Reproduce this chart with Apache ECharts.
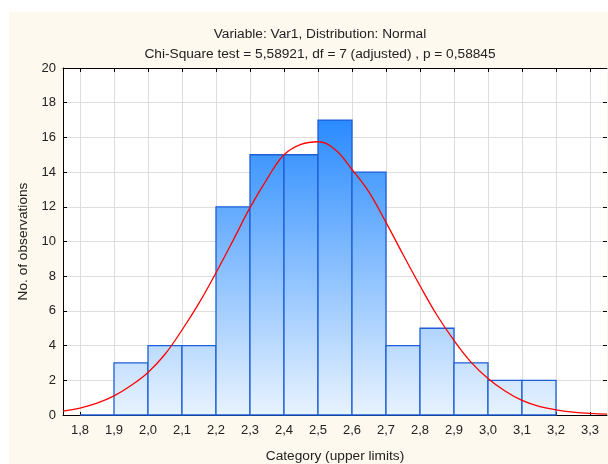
<!DOCTYPE html>
<html><head><meta charset="utf-8">
<script src="https://cdn.jsdelivr.net/npm/echarts@6/dist/echarts.min.js"></script>
<style>html,body{margin:0;padding:0;background:#fff;}#c{width:608px;height:464px;}</style>
</head><body><div id="c"></div>
<script>
// Histogram bins (lower limit, upper limit) and counts
const binLower = [1.8, 1.9, 2.0, 2.1, 2.2, 2.3, 2.4, 2.5, 2.6, 2.7, 2.8, 2.9, 3.0, 3.1];
const binUpper = [1.9, 2.0, 2.1, 2.2, 2.3, 2.4, 2.5, 2.6, 2.7, 2.8, 2.9, 3.0, 3.1, 3.2];
const counts   = [0, 3, 4, 4, 12, 15, 15, 17, 14, 4, 5, 3, 2, 2];
// Fitted normal curve
const curveX = [1.75,1.8,1.85,1.9,1.95,2.0,2.05,2.1,2.15,2.2,2.25,2.3,2.35,2.4,2.45,2.5,2.55,2.6,2.65,2.7,2.75,2.8,2.85,2.9,2.95,3.0,3.05,3.1,3.15,3.2,3.25,3.3,3.35];
const curveY = [0.22,0.4,0.68,1.1,1.7,2.45,3.5,4.9,6.45,8.2,10.05,11.95,13.6,15.0,15.6,15.75,15.3,14.15,12.85,11.1,9.25,7.45,5.75,4.3,3.05,2.1,1.38,0.84,0.5,0.3,0.17,0.09,0.05];
const xTicks = [1.8,1.9,2.0,2.1,2.2,2.3,2.4,2.5,2.6,2.7,2.8,2.9,3.0,3.1,3.2,3.3];
const titleLine1 = 'Variable: Var1, Distribution: Normal';
const titleLine2 = 'Chi-Square test = 5,58921, df = 7 (adjusted) , p = 0,58845';

const FONT = 'Liberation Sans, Arial, sans-serif';
const chart = echarts.init(document.getElementById('c'));
const histData = binLower.map((lo, i) => [lo, binUpper[i], counts[i]]);
const curveData = curveX.map((x, i) => [x, curveY[i]]);
const fmt = v => (Math.round(v * 10) / 10).toFixed(1).replace('.', ',');

chart.setOption({
  backgroundColor: '#ffffff',
  animation: false,
  graphic: [{ type: 'rect', z: -100, silent: true, shape: { x: 9, y: 12, width: 599, height: 452 }, style: { fill: '#fdf9ef' } }],
  title: [
    { text: titleLine1, left: 315, textAlign: 'center', top: 22, textStyle: { fontFamily: FONT, fontSize: 13.7, fontWeight: 'normal', color: '#222' } },
    { text: titleLine2, left: 315, textAlign: 'center', top: 42, textStyle: { fontFamily: FONT, fontSize: 13.7, fontWeight: 'normal', color: '#222' } }
  ],
  grid: { left: 63, right: 1, top: 68, bottom: 49, show: true, backgroundColor: '#ffffff', borderWidth: 0, outerBoundsMode: 'none', containLabel: false },
  xAxis: [{
    type: 'value', min: 1.75, max: 3.35, position: 'bottom',
    name: 'Category (upper limits)', nameLocation: 'middle', nameGap: 34,
    nameTextStyle: { fontFamily: FONT, fontSize: 13.7, color: '#222' },
    axisLine: { show: true, onZero: false, lineStyle: { color: '#000', width: 1 } },
    axisTick: { show: true, inside: true, length: 3, customValues: xTicks, lineStyle: { color: '#000' } },
    axisLabel: { customValues: xTicks, formatter: fmt, fontFamily: FONT, fontSize: 13, color: '#222', margin: 9 },
    splitLine: { show: true, lineStyle: { color: '#dedede', width: 1 } }
  }, {
    type: 'value', min: 1.75, max: 3.35, position: 'top',
    axisLine: { show: true, onZero: false, lineStyle: { color: '#000', width: 1 } },
    axisTick: { show: true, inside: true, length: 4, customValues: xTicks, lineStyle: { color: '#000' } },
    axisLabel: { show: false },
    splitLine: { show: false }
  }],
  yAxis: [{
    type: 'value', min: 0, max: 20, interval: 2, position: 'left',
    name: 'No. of observations', nameLocation: 'middle', nameGap: 23,
    nameTextStyle: { fontFamily: FONT, fontSize: 13.7, color: '#222' },
    axisLine: { show: true, onZero: false, lineStyle: { color: '#000', width: 1 } },
    axisTick: { show: true, inside: true, length: 4, lineStyle: { color: '#000' } },
    axisLabel: { fontFamily: FONT, fontSize: 13, color: '#222', margin: 7 },
    splitLine: { show: true, lineStyle: { color: '#dedede', width: 1 } }
  }, {
    type: 'value', min: 0, max: 20, interval: 2, position: 'right',
    axisLine: { show: false },
    axisTick: { show: true, inside: true, length: 4, lineStyle: { color: '#000' } },
    axisLabel: { show: false },
    splitLine: { show: false }
  }],
  series: [{
    type: 'custom',
    xAxisIndex: 0, yAxisIndex: 0,
    data: histData,
    renderItem: function (params, api) {
      const lo = api.value(0), hi = api.value(1), v = api.value(2);
      const p0 = api.coord([lo, 0]);
      const p1 = api.coord([hi, v]);
      const yTop = api.coord([lo, 17])[1];
      const grad = new echarts.graphic.LinearGradient(0, yTop, 0, p0[1], [
        { offset: 0, color: '#2a8bff' },
        { offset: 1, color: '#e8f3fe' }
      ], true);
      return {
        type: 'rect',
        shape: { x: p0[0], y: p1[1], width: p1[0] - p0[0], height: p0[1] - p1[1] },
        style: { fill: grad, stroke: '#1d5fd6', lineWidth: 1.3 }
      };
    },
    z: 2
  }, {
    type: 'line',
    xAxisIndex: 0, yAxisIndex: 0,
    data: curveData,
    smooth: 0.4,
    symbol: 'none',
    clip: true,
    lineStyle: { color: '#ff0000', width: 1.3 },
    z: 3
  }]
});
</script>
</body></html>
